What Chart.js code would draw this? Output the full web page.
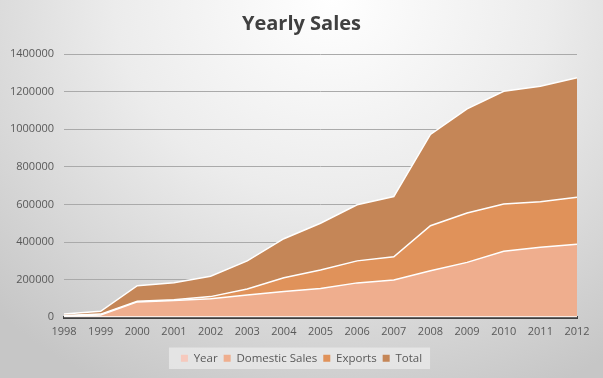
<!DOCTYPE html>
<html>
<head>
<meta charset="utf-8">
<script src="https://cdn.jsdelivr.net/npm/chart.js@4/dist/chart.umd.min.js"></script>
<style>
  html, body { margin: 0; padding: 0; }
  body { width: 603px; height: 378px; overflow: hidden;
    background: radial-gradient(ellipse 80% 115% at 55% 0%, #ffffff 0%, #ececec 45%, #c6c6c6 100%); }
  #wrap { position: relative; width: 603px; height: 378px; }
</style>
</head>
<body>
<div id="wrap"><canvas id="c" width="603" height="378"></canvas></div>
<script>
const years = ['1998','1999','2000','2001','2002','2003','2004','2005','2006','2007','2008','2009','2010','2011','2012'];
const yearValues = [1998,1999,2000,2001,2002,2003,2004,2005,2006,2007,2008,2009,2010,2011,2012];
const domesticSales = [5000,10000,80000,87000,97000,116000,135000,151000,181000,196000,245000,290000,349000,370000,387000];
const exportsSales = [3000,5000,3000,4000,11000,33000,73000,98000,117000,124000,240000,263000,251000,243000,249000];
const totalSales = [8000,15000,83000,91000,108000,149000,208000,249000,298000,320000,485000,553000,600000,613000,636000];
const yTicks = [0,200000,400000,600000,800000,1000000,1200000,1400000];

const seriesNames = ['Year','Domestic Sales','Exports','Total'];
const seriesData = [yearValues, domesticSales, exportsSales, totalSales];
const fills = ['#f6c9bd','#efae8e','#e0925a','#c58657'];

const legendBg = {
  id: 'legendBg',
  beforeDraw(chart) {
    const lg = chart.legend;
    if (!lg || !lg.legendHitBoxes || !lg.legendHitBoxes.length) return;
    const hb = lg.legendHitBoxes;
    const x0 = Math.min(...hb.map(b => b.left)) - 12;
    const x1 = Math.max(...hb.map(b => b.left + b.width)) + 8;
    const y0 = Math.min(...hb.map(b => b.top)) - 5;
    const y1 = Math.max(...hb.map(b => b.top + b.height)) + 5;
    const ctx = chart.ctx;
    ctx.save();
    ctx.fillStyle = 'rgba(235,235,235,0.75)';
    ctx.fillRect(x0, y0, x1 - x0, y1 - y0);
    ctx.restore();
  }
};

new Chart(document.getElementById('c'), {
  type: 'line',
  data: {
    labels: years,
    datasets: seriesNames.map((n, i) => ({
      label: n,
      data: seriesData[i],
      backgroundColor: fills[i],
      borderColor: '#ffffff',
      borderWidth: 1.5,
      pointRadius: 0,
      fill: i === 0 ? 'origin' : '-1',
      tension: 0
    }))
  },
  options: {
    responsive: false,
    animation: false,
    devicePixelRatio: 1,
    layout: { padding: { left: 0, right: 0, top: 0, bottom: 4 } },
    plugins: {
      title: {
        display: true,
        text: 'Yearly Sales',
        color: '#404040',
        font: { family: 'Open Sans', size: 20, weight: 'bold' },
        padding: { top: 12, bottom: 18 }
      },
      legend: {
        position: 'bottom',
        labels: {
          color: '#595959',
          font: { family: 'Open Sans', size: 11.5 },
          boxWidth: 7,
          boxHeight: 7,
          padding: 6,
          generateLabels(chart) {
            return chart.data.datasets.map((d, i) => ({
              text: d.label,
              fillStyle: d.backgroundColor,
              strokeStyle: d.backgroundColor,
              lineWidth: 0,
              fontColor: '#595959',
              datasetIndex: i,
              hidden: false
            }));
          }
        }
      },
      tooltip: { enabled: false }
    },
    scales: {
      x: {
        offset: false,
        grid: { display: false, drawTicks: false },
        border: { display: true, color: '#404040', width: 3 },
        ticks: { color: '#595959', font: { family: 'Open Sans', size: 11 }, padding: 8, maxRotation: 0, autoSkip: false }
      },
      y: {
        stacked: true,
        min: 0,
        max: 1400000,
        afterBuildTicks(scale) { scale.ticks = yTicks.map(v => ({ value: v })); },
        grid: { color: '#aaaaaa', drawTicks: false, lineWidth: 1 },
        border: { display: false },
        ticks: { color: '#595959', font: { family: 'Open Sans', size: 11 }, padding: 10,
          callback: v => String(v) }
      },
      yRight: {
        position: 'right',
        display: true,
        min: 0,
        max: 1400000,
        grid: { display: false, drawTicks: false },
        border: { display: false },
        ticks: { display: false },
        afterFit(s) { s.width = 26; }
      }
    }
  },
  plugins: [legendBg]
});
</script>
</body>
</html>
